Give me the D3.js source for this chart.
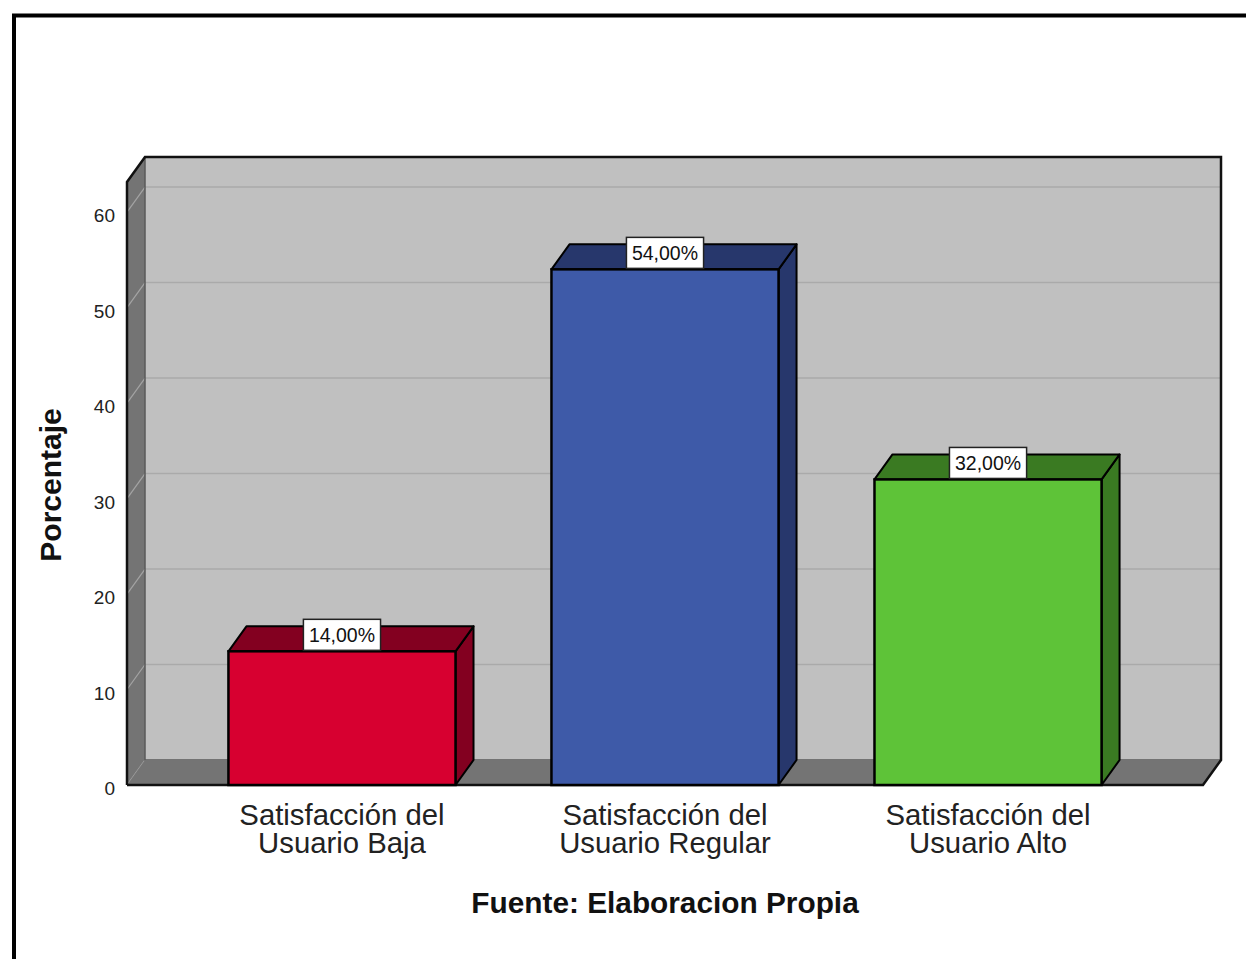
<!DOCTYPE html>
<html>
<head>
<meta charset="utf-8">
<script src="https://cdn.jsdelivr.net/npm/d3@7"></script>
<style>
  html, body { margin: 0; padding: 0; background: #fff; }
  svg { display: block; font-family: Arial, "Liberation Sans", sans-serif; }
</style>
</head>
<body>
<svg id="chart" width="1246" height="959"></svg>
<script>
// Data
const categories = [
  "Satisfacción del Usuario Baja",
  "Satisfacción del Usuario Regular",
  "Satisfacción del Usuario Alto"
];
const values = [14, 54, 32];
const yTicks = [0, 10, 20, 30, 40, 50, 60];
const frontColors = ["#d70030", "#3e5aa8", "#5ec338"];
const shadeColors = ["#830020", "#27376c", "#3a7a22"];

// Geometry
const depthX = 18, depthY = 25;
const floorY = 785;
const svg = d3.select("#chart");

const x = d3.scaleBand()
  .domain(categories)
  .range([127, 1203])
  .paddingInner(0.297)
  .paddingOuter(0.314);

const y = d3.scaleLinear()
  .domain([0, 63.15])
  .range([floorY, 182]);

const xL = x.range()[0], xR = x.range()[1];
const yTop = y.range()[1];

// Page frame
svg.append("rect")
  .attr("x", 14).attr("y", 15.5)
  .attr("width", 1300).attr("height", 1000)
  .attr("fill", "none").attr("stroke", "#000").attr("stroke-width", 4);

// Back wall
svg.append("rect")
  .attr("x", xL + depthX).attr("y", yTop - depthY)
  .attr("width", xR - xL).attr("height", floorY - yTop)
  .attr("fill", "#c0c0c0");

// Left wall
svg.append("polygon")
  .attr("points", [[xL, floorY], [xL, yTop], [xL + depthX, yTop - depthY], [xL + depthX, floorY - depthY]].join(" "))
  .attr("fill", "#747474");

// Gridlines on back wall and left wall
const grid = svg.append("g");
grid.selectAll("line.back").data(yTicks.filter(d => d > 0)).join("line")
  .attr("class", "back")
  .attr("x1", xL + depthX).attr("x2", xR + depthX)
  .attr("y1", d => y(d) - depthY).attr("y2", d => y(d) - depthY)
  .attr("stroke", "#aaaaaa").attr("stroke-width", 1.5);
grid.selectAll("line.side").data(yTicks).join("line")
  .attr("class", "side")
  .attr("x1", xL).attr("x2", xL + depthX)
  .attr("y1", d => y(d)).attr("y2", d => y(d) - depthY)
  .attr("stroke", "#a4a4a4").attr("stroke-width", 1.2);

// Inner corner edges
svg.append("polyline")
  .attr("points", [[xL + depthX, yTop - depthY], [xL + depthX, floorY - depthY], [xR + depthX, floorY - depthY]].join(" "))
  .attr("fill", "none").attr("stroke", "#5a5a5a").attr("stroke-width", 1.5);

// Floor
svg.append("polygon")
  .attr("points", [[xL, floorY], [xL + depthX, floorY - depthY], [xR + depthX, floorY - depthY], [xR, floorY]].join(" "))
  .attr("fill", "#747474");

// Outer edges of the box
svg.append("polyline")
  .attr("points", [[xL, floorY], [xL, yTop], [xL + depthX, yTop - depthY], [xR + depthX, yTop - depthY], [xR + depthX, floorY - depthY], [xR, floorY], [xL, floorY]].join(" "))
  .attr("fill", "none").attr("stroke", "#111").attr("stroke-width", 2.5)
  .attr("stroke-linejoin", "miter");

// Bars
const bars = svg.append("g").selectAll("g").data(categories).join("g");
const bw = x.bandwidth();
bars.each(function (c, i) {
  const g = d3.select(this);
  const x0 = x(c), x1 = x0 + bw, yt = y(values[i]);
  g.append("polygon")
    .attr("points", [[x1, yt], [x1 + depthX, yt - depthY], [x1 + depthX, floorY - depthY], [x1, floorY]].join(" "))
    .attr("fill", shadeColors[i]).attr("stroke", "#000").attr("stroke-width", 2).attr("stroke-linejoin", "round");
  g.append("polygon")
    .attr("points", [[x0, yt], [x0 + depthX, yt - depthY], [x1 + depthX, yt - depthY], [x1, yt]].join(" "))
    .attr("fill", shadeColors[i]).attr("stroke", "#000").attr("stroke-width", 2).attr("stroke-linejoin", "round");
  g.append("rect")
    .attr("x", x0).attr("y", yt).attr("width", bw).attr("height", floorY - yt)
    .attr("fill", frontColors[i]).attr("stroke", "#000").attr("stroke-width", 2.5);
});

// Value labels
const fmt = d3.formatLocale({ decimal: ",", thousands: ".", grouping: [3], currency: ["", ""] }).format(".2f");
bars.each(function (c, i) {
  const g = d3.select(this);
  const cx = x(c) + bw / 2, yt = y(values[i]);
  const box = g.append("rect").attr("fill", "#fff").attr("stroke", "#222").attr("stroke-width", 1.5);
  const t = g.append("text")
    .attr("x", cx).attr("y", yt - 9)
    .attr("text-anchor", "middle")
    .attr("font-size", 19.5).attr("fill", "#111")
    .text(fmt(values[i]) + "%");
  const w = t.node().getComputedTextLength() + 11;
  box.attr("x", cx - w / 2).attr("y", yt - 32).attr("width", w).attr("height", 31);
});

// Y axis labels
const yAxis = d3.axisLeft(y).tickValues(yTicks).tickSize(0).tickPadding(12).tickFormat(d3.format("d"));
const ya = svg.append("g").attr("transform", `translate(${xL},0)`).call(yAxis);
ya.select(".domain").remove();
ya.selectAll("text")
  .attr("font-size", 19).attr("font-family", "Arial, 'Liberation Sans', sans-serif")
  .attr("fill", "#222").attr("dy", "0.5em");

// Y axis title
svg.append("text")
  .attr("transform", "translate(61,485) rotate(-90)")
  .attr("text-anchor", "middle")
  .attr("font-size", 30).attr("font-weight", "bold").attr("fill", "#111")
  .text("Porcentaje");

// Category labels
const xa = svg.append("g");
categories.forEach(c => {
  const m = c.match(/^(.*del) (.*)$/);
  const lines = m ? [m[1], m[2]] : [c];
  const t = xa.append("text")
    .attr("text-anchor", "middle")
    .attr("font-size", 29.3).attr("fill", "#222");
  lines.forEach((ln, k) => {
    t.append("tspan").attr("x", x(c) + bw / 2).attr("y", 825 + k * 28).text(ln);
  });
});

// Source note
svg.append("text")
  .attr("x", 665).attr("y", 913)
  .attr("text-anchor", "middle")
  .attr("font-size", 29.8).attr("font-weight", "bold").attr("fill", "#111")
  .text("Fuente: Elaboracion Propia");
</script>
</body>
</html>
